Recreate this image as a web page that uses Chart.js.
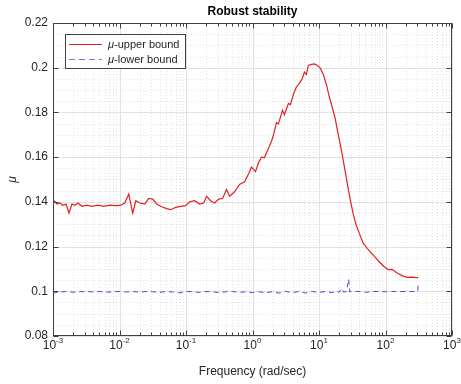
<!DOCTYPE html>
<html>
<head>
<meta charset="utf-8">
<script src="https://cdn.jsdelivr.net/npm/chart.js@4"></script>
<style>
  html, body { margin: 0; padding: 0; background: #fff; }
  canvas { display: block; }
</style>
</head>
<body>
<canvas id="robustChart" width="461" height="384"></canvas>
<script>
// frequency (rad/sec) and mu values
const upperFreq = [0.00104, 0.00115, 0.00127, 0.00141, 0.00157, 0.00174, 0.00193, 0.00214, 0.00237, 0.00272,
    0.00324, 0.00385, 0.00473, 0.00582, 0.00716, 0.00881, 0.01047, 0.0120, 0.0138, 0.0148,
    0.0158, 0.0176, 0.0202, 0.0240, 0.0275, 0.0316, 0.0363, 0.0431, 0.0513, 0.0589,
    0.0700, 0.0832, 0.0989, 0.1135, 0.1349, 0.160, 0.184, 0.204, 0.234, 0.269,
    0.309, 0.355, 0.407, 0.452, 0.537, 0.638, 0.759, 0.871, 0.966, 1.109,
    1.23, 1.365, 1.514, 1.68, 1.928, 2.14, 2.29, 2.455, 2.82, 3.02,
    3.47, 3.72, 4.12, 4.57, 5.07, 5.62, 6.03, 6.46, 6.92, 7.67,
    8.51, 9.44, 10.47, 11.6, 12.9, 14.3, 15.85, 17.6, 19.5, 21.6,
    24.0, 26.6, 29.5, 32.7, 36.3, 40.3, 46.2, 53.1, 61.0, 70.0,
    80.4, 95.5, 109.6, 125.9, 149.6, 177.8, 211.3, 251.2, 288.4, 309];
const upperMu = [0.1405, 0.139, 0.1395, 0.1385, 0.139, 0.135, 0.139, 0.1385, 0.1395, 0.138,
    0.1385, 0.138, 0.1385, 0.138, 0.1385, 0.1383, 0.1385, 0.1395, 0.1435, 0.139,
    0.135, 0.1405, 0.1395, 0.139, 0.1415, 0.1412, 0.139, 0.1378, 0.137, 0.1365,
    0.1375, 0.138, 0.1383, 0.140, 0.1405, 0.139, 0.1395, 0.1425, 0.1405, 0.1395,
    0.1412, 0.1415, 0.1455, 0.1425, 0.1445, 0.1478, 0.149, 0.1525, 0.1555, 0.1535,
    0.1575, 0.160, 0.1598, 0.163, 0.167, 0.1715, 0.1755, 0.1748, 0.181, 0.179,
    0.184, 0.1835, 0.188, 0.1914, 0.193, 0.1952, 0.198, 0.197, 0.201, 0.2015,
    0.2017, 0.201, 0.1998, 0.197, 0.1925, 0.187, 0.1822, 0.177, 0.170, 0.1635,
    0.156, 0.1483, 0.141, 0.1345, 0.1295, 0.126, 0.1215, 0.1192, 0.1172, 0.1153,
    0.1132, 0.111, 0.1097, 0.1098, 0.1082, 0.107, 0.1062, 0.1063, 0.1061, 0.1061];

const lowerFreq = [0.001, 0.00106, 0.0013, 0.0016, 0.002, 0.0025, 0.0032, 0.004, 0.005, 0.0063,
    0.008, 0.01, 0.0126, 0.0158, 0.02, 0.025, 0.0316, 0.04, 0.05, 0.063,
    0.079, 0.1, 0.126, 0.158, 0.2, 0.25, 0.316, 0.4, 0.5, 0.63,
    0.79, 1.0, 1.26, 1.58, 2.0, 2.5, 3.16, 4.0, 5.0, 6.3,
    7.9, 10, 12.6, 15.8, 18, 20, 22, 23.5, 26, 28,
    29, 31.6, 40, 50, 63, 79, 100, 126, 158, 200,
    251, 290, 305, 310];
const lowerMu = [0.1, 0.0993, 0.0997, 0.0999, 0.0996, 0.0998, 0.0999, 0.0997, 0.0999, 0.0996,
    0.0998, 0.0999, 0.0997, 0.0999, 0.0996, 0.0999, 0.0998, 0.0995, 0.0999, 0.0997,
    0.0993, 0.0999, 0.0998, 0.0995, 0.0999, 0.0998, 0.0994, 0.0998, 0.0999, 0.0995,
    0.0998, 0.0994, 0.0998, 0.0993, 0.0999, 0.0992, 0.0999, 0.0994, 0.0999, 0.0992,
    0.0999, 0.0995, 0.0999, 0.0994, 0.1002, 0.0995, 0.1013, 0.0996, 0.1, 0.1055,
    0.0998, 0.0999, 0.0999, 0.0995, 0.0999, 0.0999, 0.0998, 0.0999, 0.0999, 0.0999,
    0.0999, 0.0999, 0.1, 0.1027];

const yTicks = [0.08, 0.1, 0.12, 0.14, 0.16, 0.18, 0.2, 0.22];
const xTickExponents = [-3, -2, -1, 0, 1, 2, 3];

const titleText = 'Robust stability';
const xLabel = 'Frequency (rad/sec)';
const legendLabels = ['-upper bound', '-lower bound'];

const axisColor = '#404040';
const textColor = '#262626';
const upperColor = 'rgb(228, 32, 32)';
const lowerColor = 'rgb(70, 70, 225)';
const FONT = '"Liberation Sans", Arial, sans-serif';

function toPoints(xs, ys) {
    return xs.map(function (f, i) { return { x: f, y: ys[i] }; });
}

const matlabAxes = {
    id: 'matlabAxes',
    beforeDatasetsDraw: function (chart) {
        const ctx = chart.ctx;
        const a = chart.chartArea;
        const x = chart.scales.x;
        const y = chart.scales.y;
        ctx.save();
        ctx.lineWidth = 1;
        // minor grid
        ctx.strokeStyle = 'rgba(0,0,0,0.11)';
        ctx.setLineDash([1, 2]);
        for (let e = -3; e < 3; e++) {
            for (let k = 2; k <= 9; k++) {
                const px = Math.round(x.getPixelForValue(k * Math.pow(10, e))) + 0.5;
                ctx.beginPath(); ctx.moveTo(px, a.top); ctx.lineTo(px, a.bottom); ctx.stroke();
            }
        }
        for (let i = 1; i < 28; i++) {
            if (i % 4 === 0) continue;
            const py = Math.round(y.getPixelForValue(0.08 + i * 0.005)) + 0.5;
            ctx.beginPath(); ctx.moveTo(a.left, py); ctx.lineTo(a.right, py); ctx.stroke();
        }
        // major grid
        ctx.setLineDash([]);
        ctx.strokeStyle = '#e2e2e2';
        xTickExponents.forEach(function (e) {
            const px = Math.round(x.getPixelForValue(Math.pow(10, e))) + 0.5;
            ctx.beginPath(); ctx.moveTo(px, a.top); ctx.lineTo(px, a.bottom); ctx.stroke();
        });
        yTicks.forEach(function (v) {
            const py = Math.round(y.getPixelForValue(v)) + 0.5;
            ctx.beginPath(); ctx.moveTo(a.left, py); ctx.lineTo(a.right, py); ctx.stroke();
        });
        ctx.restore();
    },
    afterDatasetsDraw: function (chart) {
        const ctx = chart.ctx;
        const a = chart.chartArea;
        const x = chart.scales.x;
        const y = chart.scales.y;
        ctx.save();
        ctx.lineWidth = 1;
        ctx.strokeStyle = axisColor;
        const L = Math.round(a.left) + 0.5, R = Math.round(a.right) - 0.5;
        const T = Math.round(a.top) + 0.5, B = Math.round(a.bottom) - 0.5;
        ctx.strokeRect(L, T, R - L, B - T);

        // inside tick marks
        ctx.beginPath();
        for (let e = -3; e < 3; e++) {
            for (let k = 2; k <= 9; k++) {
                const px = Math.round(x.getPixelForValue(k * Math.pow(10, e))) + 0.5;
                ctx.moveTo(px, B); ctx.lineTo(px, B - 3);
                ctx.moveTo(px, T); ctx.lineTo(px, T + 3);
            }
        }
        xTickExponents.forEach(function (e) {
            const px = Math.round(x.getPixelForValue(Math.pow(10, e))) + 0.5;
            ctx.moveTo(px, B); ctx.lineTo(px, B - 5);
            ctx.moveTo(px, T); ctx.lineTo(px, T + 5);
        });
        yTicks.forEach(function (v) {
            const py = Math.round(y.getPixelForValue(v)) + 0.5;
            ctx.moveTo(L, py); ctx.lineTo(L + 5, py);
            ctx.moveTo(R, py); ctx.lineTo(R - 5, py);
        });
        ctx.stroke();

        // x tick labels 10^n
        ctx.fillStyle = textColor;
        ctx.textBaseline = 'alphabetic';
        ctx.textAlign = 'left';
        xTickExponents.forEach(function (e) {
            const px = x.getPixelForValue(Math.pow(10, e));
            ctx.font = '12px ' + FONT;
            const wb = ctx.measureText('10').width;
            ctx.font = '8px ' + FONT;
            const sup = String(e);
            const ws = ctx.measureText(sup).width;
            const start = px - (wb + ws) / 2;
            ctx.font = '12px ' + FONT;
            ctx.fillText('10', start, a.bottom + 13);
            ctx.font = '8px ' + FONT;
            ctx.fillText(sup, start + wb, a.bottom + 7);
        });

        // axis labels and title
        ctx.textAlign = 'center';
        ctx.textBaseline = 'middle';
        ctx.font = '12px ' + FONT;
        ctx.fillText(xLabel, (a.left + a.right) / 2, a.bottom + 36);
        ctx.fillStyle = '#000';
        ctx.font = 'bold 12px ' + FONT;
        ctx.fillText(titleText, (a.left + a.right) / 2, a.top - 11);
        ctx.save();
        ctx.translate(13, (a.top + a.bottom) / 2);
        ctx.rotate(-Math.PI / 2);
        ctx.fillStyle = textColor;
        ctx.font = 'italic 12px ' + FONT;
        ctx.fillText('\u03bc', 0, 0);
        ctx.restore();

        // legend
        const lx = a.left + 12, ly = a.top + 11, lw = 120, lh = 34;
        ctx.fillStyle = '#fff';
        ctx.fillRect(lx, ly, lw, lh);
        ctx.strokeStyle = axisColor;
        ctx.strokeRect(Math.round(lx) + 0.5, Math.round(ly) + 0.5, lw, lh);
        const rows = [
            { color: upperColor, dash: [], text: legendLabels[0] },
            { color: 'rgb(120, 120, 240)', dash: [6, 4], text: legendLabels[1] }
        ];
        rows.forEach(function (r, i) {
            const cy = Math.round(ly + 10 + i * 15) + 0.5;
            ctx.strokeStyle = r.color;
            ctx.setLineDash(r.dash);
            ctx.beginPath(); ctx.moveTo(lx + 4, cy); ctx.lineTo(lx + 37, cy); ctx.stroke();
            ctx.setLineDash([]);
            ctx.fillStyle = textColor;
            ctx.textAlign = 'left';
            ctx.font = 'italic 11px ' + FONT;
            ctx.fillText('\u03bc', lx + 43, cy);
            const mw = ctx.measureText('\u03bc').width;
            ctx.font = '11px ' + FONT;
            ctx.fillText(r.text, lx + 43 + mw, cy);
        });
        ctx.restore();
    }
};

document.addEventListener('DOMContentLoaded', function () {
    const config = {
        type: 'scatter',
        data: {
            datasets: [{
                label: 'mu-upper bound',
                data: toPoints(upperFreq, upperMu),
                showLine: true,
                borderColor: upperColor,
                borderWidth: 1.2,
                pointRadius: 0,
                tension: 0
            }, {
                label: 'mu-lower bound',
                data: toPoints(lowerFreq, lowerMu),
                showLine: true,
                borderColor: lowerColor,
                borderWidth: 1,
                borderDash: [5, 4],
                pointRadius: 0,
                tension: 0
            }]
        },
        options: {
            responsive: false,
            animation: false,
            layout: { padding: { top: 23, right: 9, left: 0, bottom: 0 } },
            plugins: {
                legend: { display: false },
                title: { display: false },
                tooltip: { enabled: false }
            },
            scales: {
                x: {
                    type: 'logarithmic',
                    min: 0.001,
                    max: 1000,
                    grid: { display: false },
                    border: { display: false },
                    ticks: { display: false },
                    afterFit: function (scale) { scale.height = 48; }
                },
                y: {
                    min: 0.08,
                    max: 0.22,
                    afterBuildTicks: function (scale) {
                        scale.ticks = yTicks.map(function (v) { return { value: v }; });
                    },
                    grid: { display: false, drawTicks: false },
                    border: { display: false },
                    ticks: {
                        padding: 5,
                        color: textColor,
                        font: { family: FONT, size: 12 },
                        callback: function (v) { return String(Number(v.toFixed(2))); }
                    },
                    afterFit: function (scale) { scale.width = 53; }
                }
            }
        },
        plugins: [matlabAxes]
    };

    var ctx = document.getElementById('robustChart').getContext('2d');
    var robustChart = new Chart(ctx, config);
});
</script>
</body>
</html>
